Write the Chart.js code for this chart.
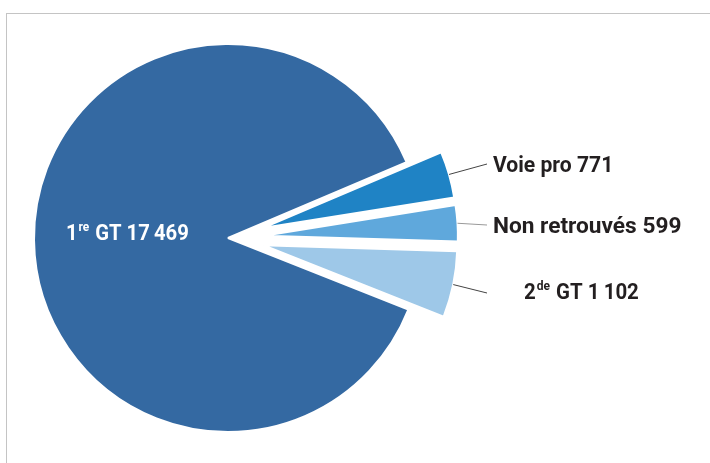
<!DOCTYPE html>
<html>
<head>
<meta charset="utf-8">
<script src="https://cdn.jsdelivr.net/npm/chart.js@4"></script>
<style>
  body { margin: 0; background: #fff; }
  #wrap { position: relative; width: 710px; height: 463px; }
  #frame { position: absolute; left: 6px; top: 13px; right: 0; bottom: 0;
           border-top: 1px solid #c4c4c4; border-left: 1px solid #c4c4c4; }
  canvas { position: absolute; left: 0; top: 0; }
</style>
</head>
<body>
<div id="wrap">
  <div id="frame"></div>
  <canvas id="pieChart" width="710" height="463"></canvas>
</div>
<script>
// --- données ---
const categories = ['Voie pro', 'Non retrouvés', '2de GT', '1re GT'];
const values = [771, 599, 1102, 17469];
const colors = ['#1f83c5', '#5fa8dc', '#9ec8e8', '#3469a2'];

// mise en forme "17 469"
const formatNum = (v) => String(v).replace(/\B(?=(\d{3})+(?!\d))/g, '\u2009');

// position des étiquettes (x gauche, ligne de base, fin du trait, largeur)
const labelPos = [
    { x: 493, y: 172, lx: 487, ly: 164, line: '#444', sx: 0.96 },
    { x: 493, y: 233, lx: 487, ly: 225, line: '#999', sx: 1.03 },
    { x: 524, y: 299, lx: 487, ly: 293, line: '#444', sx: 0.93 },
    { x: 66,  y: 240, inside: true, sx: 0.92 }
];

const EXPLODE = 36;
const FONT = '"Roboto", "Liberation Sans", sans-serif';

// dessine un texte avec exposant éventuel (1re, 2de)
const drawLabel = (ctx, text, x, y, color, sx) => {
    const m = text.match(/^(\d)(re|de)(.*)$/);
    const parts = m ? [[m[1], false], [m[2], true], [m[3], false]] : [[text, false]];
    ctx.save();
    ctx.translate(x, y);
    ctx.scale(sx, 1);
    ctx.fillStyle = color;
    ctx.textBaseline = 'alphabetic';
    ctx.textAlign = 'left';
    let cx = 0;
    parts.forEach(([t, sup]) => {
        ctx.font = sup ? 'bold 13px ' + FONT : 'bold 22px ' + FONT;
        ctx.fillText(t, cx + (sup ? 1 : 0), sup ? -9 : 0);
        cx += ctx.measureText(t).width + (sup ? 2 : 0);
    });
    ctx.restore();
};

// écarte les petites parts du centre
const explodePlugin = {
    id: 'explode',
    beforeDatasetsDraw(chart) {
        const area = chart.chartArea;
        const cx = (area.left + area.right) / 2;
        const cy = (area.top + area.bottom) / 2;
        chart.getDatasetMeta(0).data.forEach((arc, i) => {
            const d = i < 3 ? EXPLODE : 0;
            const mid = (arc.startAngle + arc.endAngle) / 2;
            arc.x = cx + Math.cos(mid) * d;
            arc.y = cy + Math.sin(mid) * d;
        });
    }
};

const labelPlugin = {
    id: 'labels',
    afterDraw(chart) {
        const ctx = chart.ctx;
        const area = chart.chartArea;
        const cx = (area.left + area.right) / 2;
        const cy = (area.top + area.bottom) / 2;
        const arcs = chart.getDatasetMeta(0).data;
        categories.forEach((cat, i) => {
            const p = labelPos[i];
            const text = cat + ' ' + formatNum(values[i]);
            if (p.inside) {
                drawLabel(ctx, text, p.x, p.y, '#ffffff', p.sx);
                return;
            }
            const arc = arcs[i];
            const mid = (arc.startAngle + arc.endAngle) / 2;
            const r = arc.outerRadius + EXPLODE;
            ctx.save();
            ctx.strokeStyle = p.line;
            ctx.lineWidth = 1;
            ctx.beginPath();
            ctx.moveTo(cx + Math.cos(mid) * r, cy + Math.sin(mid) * r);
            ctx.lineTo(p.lx, p.ly);
            ctx.stroke();
            ctx.restore();
            drawLabel(ctx, text, p.x, p.y, '#231f20', p.sx);
        });
    }
};

new Chart(document.getElementById('pieChart'), {
    type: 'pie',
    data: {
        labels: categories,
        datasets: [{
            data: values,
            backgroundColor: colors,
            borderColor: '#ffffff',
            borderWidth: 2
        }]
    },
    options: {
        responsive: false,
        animation: false,
        rotation: 67,
        radius: 194,
        events: [],
        layout: { padding: { left: 0, right: 254, top: 13, bottom: 0 } },
        plugins: {
            legend: { display: false },
            tooltip: { enabled: false }
        }
    },
    plugins: [explodePlugin, labelPlugin]
});
</script>
</body>
</html>
